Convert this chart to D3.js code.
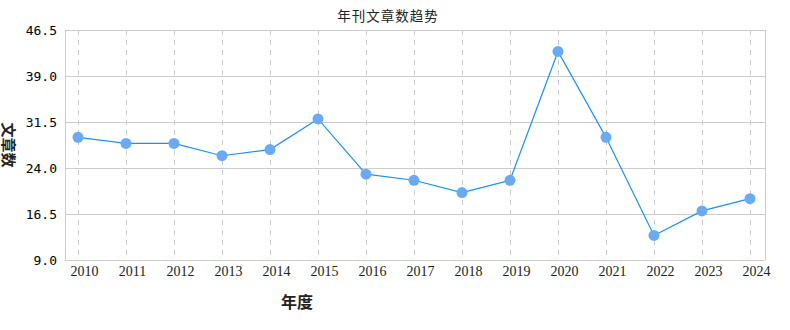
<!DOCTYPE html>
<html><head><meta charset="utf-8">
<script src="https://cdn.jsdelivr.net/npm/d3@7/dist/d3.min.js"></script>
<style>body{margin:0;background:#fff;}svg{display:block;}</style>
</head><body>
<svg id="c" width="790" height="330"></svg>
<script>
const years = ["2010","2011","2012","2013","2014","2015","2016","2017","2018","2019","2020","2021","2022","2023","2024"];
const counts = [29,28,28,26,27,32,23,22,20,22,43,29,13,17,19];
const yTicks = [9.0,16.5,24.0,31.5,39.0,46.5];
const title = "年刊文章数趋势";
const xTitle = "年度";
const yTitle = "文章数";

const svg = d3.select("#c");
const L=65, R=765, T=30, B=260;
const x = d3.scalePoint().domain(years).range([78,750]);
const y = d3.scaleLinear().domain([9,46.5]).range([B,T]);

// horizontal grid
svg.append("g").selectAll("line").data(yTicks).join("line")
  .attr("x1",L).attr("x2",R).attr("y1",d=>y(d)).attr("y2",d=>y(d))
  .attr("stroke","#cccccc").attr("stroke-width",1).attr("shape-rendering","crispEdges");
// vertical dashed grid
svg.append("g").selectAll("line").data(years).join("line")
  .attr("x1",d=>x(d)).attr("x2",d=>x(d)).attr("y1",T).attr("y2",B)
  .attr("stroke","#cccccc").attr("stroke-width",1).attr("stroke-dasharray","5,5")
  .attr("shape-rendering","crispEdges");
// frame axes
svg.append("line").attr("x1",L).attr("x2",L).attr("y1",T).attr("y2",B)
  .attr("stroke","#cccccc").attr("shape-rendering","crispEdges");
svg.append("line").attr("x1",R).attr("x2",R).attr("y1",T).attr("y2",B)
  .attr("stroke","#cccccc").attr("shape-rendering","crispEdges");
svg.append("line").attr("x1",L).attr("x2",R).attr("y1",B).attr("y2",B)
  .attr("stroke","#cccccc").attr("shape-rendering","crispEdges");

// y tick labels
svg.append("g").selectAll("text").data(yTicks).join("text")
  .attr("x",57).attr("y",d=>y(d)+4.5).attr("text-anchor","end")
  .attr("font-family","'DejaVu Sans Mono', monospace").attr("font-size",13).attr("fill","#000")
  .text(d=>d.toFixed(1));
// x tick labels
svg.append("g").selectAll("text").data(years).join("text")
  .attr("x",d=>x(d)+6.5).attr("y",276).attr("text-anchor","middle")
  .attr("font-family","'Liberation Serif', serif").attr("font-size",14).attr("fill","#222")
  .text(d=>d);

// line
const line = d3.line().x((d,i)=>x(years[i])).y(d=>y(d));
svg.append("path").datum(counts).attr("d",line).attr("fill","none")
  .attr("stroke","#1890ff").attr("stroke-width",1.2);
svg.append("g").selectAll("circle").data(counts).join("circle")
  .attr("cx",(d,i)=>x(years[i])).attr("cy",d=>y(d)).attr("r",5.5)
  .attr("fill","#6aaaf5");

// titles
svg.append("text").attr("x",388).attr("y",21).attr("text-anchor","middle")
  .attr("font-family","'Noto Sans CJK SC', sans-serif").attr("font-size",13.5)
  .attr("letter-spacing",1).attr("fill","#222").text(title);
svg.append("text").attr("x",297).attr("y",308).attr("text-anchor","middle")
  .attr("font-family","'Noto Sans CJK SC', sans-serif").attr("font-size",16).attr("font-weight","bold")
  .attr("fill","#222").text(xTitle);
svg.append("text").attr("transform","translate(9,145) rotate(90)").attr("text-anchor","middle")
  .attr("dominant-baseline","central")
  .attr("font-family","'Noto Sans CJK SC', sans-serif").attr("font-size",15).attr("font-weight","bold")
  .attr("fill","#222").text(yTitle);
</script>
</body></html>
